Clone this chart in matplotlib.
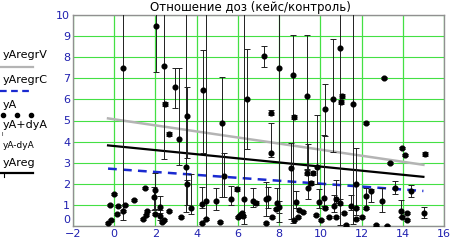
import numpy as np
import matplotlib
matplotlib.use("Agg")
import matplotlib.pyplot as plt
from matplotlib.lines import Line2D
from matplotlib.transforms import ScaledTranslation

# measured points: x, yA, lower error, upper error
xA = [0.44, 2.04, 2.43, 2.48, 2.96, 3.15, 3.54, 2.67, 4.3, 5.25, 6.46, 7.28, 7.6, 7.62,
      8.0, 8.66, 8.74, 9.37, 10.24, 10.6, 10.97, 11.07, 11.0, 11.6, 13.1, 12.23, 13.98,
      14.13, 15.1, 13.4, 8.6, 9.85,
      -0.3, -0.15, 0.15, 0.44, -0.2, 0.2, 0.5, 0.0, 0.97, 1.5, 1.94, 2.0, 1.6, 1.55, 1.4,
      2.0, 2.2, 2.33, 2.2, 2.67, 2.4, 3.5, 3.54, 3.74, 3.25, 4.27, 4.47, 4.47, 4.27, 4.95,
      5.15, 5.34, 5.68, 5.97, 6.3, 6.1, 6.2, 6.0, 6.26, 6.75, 6.9, 7.38, 7.38, 7.48, 7.9,
      8.0, 7.67, 7.86, 8.8, 8.98, 8.9, 8.74, 9.17, 9.42, 9.56, 9.37, 9.66, 9.95, 9.8, 10.05,
      10.2, 10.24, 10.44, 10.68, 10.78, 10.78, 10.97, 11.17, 11.5, 11.75, 11.26, 11.75,
      12.23, 12.48, 13.0, 13.6, 14.4, 12.23, 13.93, 14.2, 13.98, 14.2, 15.05, 13.25, 12.04,
      11.75, 12.7]
yA = [7.49, 9.48, 7.58, 5.78, 6.59, 4.1, 5.21, 4.36, 6.44, 4.88, 6.0, 8.05, 5.36, 3.46,
      7.5, 7.15, 5.17, 6.16, 5.55, 6.0, 8.43, 6.16, 5.87, 5.78, 7.0, 4.88, 3.7,
      3.36, 3.41, 2.99, 2.75, 2.8,
      0.14, 0.28, 0.57, 0.71, 1.0, 0.95, 1.0, 1.52, 1.23, 1.8, 1.37, 1.7, 0.71, 0.52, 0.33,
      0.57, 0.47, 0.19, 0.9, 0.71, 0.28, 2.8, 2.0, 0.85, 0.43, 1.04, 1.18, 0.33, 0.14, 1.18,
      0.19, 2.37, 1.28, 1.75, 1.28, 0.52, 0.62, 0.43, 0.47, 1.18, 1.09, 1.28, 0.14, 1.33, 1.09,
      0.9, 0.43, 0.81, 1.14, 0.76, 0.43, 0.28, 0.66, 1.8, 2.04, 2.51, 2.51, 1.14, 0.52, 0.28,
      1.33, 0.85, 0.43, 0.95, 1.28, 0.43, 1.09, 0.62, 0.95, 0.33, 0.05, 2.0,
      1.42, 1.66, 1.18, 1.8, 1.66, 0.85, 0.71, 0.62, 0.43, 0.28, 0.62, 0.0, 0.43,
      0.85, 0.05]
dyA_lo = [7.2, 2.2, 4.4, 0.08, 1.0, 1.2, 2.0, 0.08, 3.0, 3.5, 2.35, 0.5, 0.1, 0.2,
          7.3, 7.0, 0.1, 3.5, 1.3, 2.5, 8.4, 0.1, 0.1, 5.7, 0.05, 0.05, 0.05,
          0.05, 0.08, 0.05, 2.4, 0.8,
          .05, .05, .05, .05, .05, .05, .05, .05, .05, .05, 0.6, 0.9, .05, .05, .05,
          .05, 0.2, .05, 0.3, .05, .05, 2.14, 1.0, 0.3, .05, 0.2, 0.9, .05, .05, 0.4,
          .05, 1.0, 0.3, 0.1, 1.2, .05, .05, .05, .05, 0.3, 0.1, 0.8, .05, 0.5, 0.3,
          0.3, .05, .05, 0.3, .05, .05, .05, .05, 0.5, 0.1, 0.1, 0.1, 0.3, .05, .05,
          0.4, .05, .05, 0.3, 0.2, .05, 0.1, .05, 0.2, .05, .05, 1.5,
          0.6, 0.5, 0.5, 0.3, 0.3, .05, 0.3, .05, .05, .05, 0.25, .05, .05,
          .05, .05]
dyA_hi = [4.0, 0.6, 3.0, 0.08, 0.9, 3.4, 1.4, 0.08, 1.9, 2.2, 2.4, 0.5, 0.15, 1.4,
          4.0, 1.9, 0.1, 2.9, 1.2, 2.85, 3.0, 0.1, 0.1, 5.0, 0.05, 0.05, 0.05,
          0.05, 0.08, 0.05, 1.2, 2.46,
          .05, .05, .05, .05, .05, .05, .05, .05, .05, .05, 0.5, 0.8, .05, .05, .05,
          .05, 0.3, .05, 0.5, .05, .05, 8.0, 0.2, 1.6, .05, 0.8, 9.0, .05, .05, 0.6,
          .05, 1.1, 0.6, 0.1, 9.0, .05, .05, .05, .05, 0.6, 0.1, 0.8, .05, 0.5, 0.7,
          0.3, .05, .05, 0.5, .05, .05, .05, .05, 2.1, 0.1, 0.2, 0.1, 0.6, .05, .05,
          3.0, .05, .05, 0.5, 0.9, .05, 0.2, .05, 0.5, .05, .05, 1.7,
          0.4, 0.1, 0.6, 0.35, 0.3, .05, 0.5, .05, .05, .05, 0.3, .05, .05,
          .05, .05]

# regression lines (end points)
x_reg = [-0.3, 15.0]
yAregrV = [5.1, 2.9]
yAreg = [3.82, 2.33]
yAregrC = [2.72, 1.66]

x_ticks = [-2, 0, 2, 4, 6, 8, 10, 12, 14, 16]
y_ticks = list(range(0, 11))

fig = plt.figure(figsize=(4.54, 2.40), dpi=100)
ax = fig.add_axes([73 / 454, 14 / 240, 371 / 454, 211 / 240])

grid_green = "#44e044"
for yv in y_ticks:
    ax.axhline(yv, color=grid_green, lw=0.8, zorder=0)
for xv in x_ticks:
    ax.axvline(xv, color=grid_green, lw=0.9, zorder=0)

ax.errorbar(xA, yA, yerr=[dyA_lo, dyA_hi], fmt="o", color="black", ms=3.4,
            ecolor="#202020", elinewidth=0.7, capsize=2.5, capthick=0.7, zorder=3)

ax.plot(x_reg, yAregrV, color="#b4b4b4", lw=1.8, zorder=2)
ax.plot(x_reg, yAreg, color="black", lw=1.6, zorder=2)
ax.plot(x_reg, yAregrC, color="#1a2ad0", lw=1.8, ls=(0, (3.5, 2.5)), zorder=2)

ax.set_xlim(-2, 16)
ax.set_ylim(0, 10)
ax.set_xticks(x_ticks)
ax.set_yticks(y_ticks)
ax.tick_params(length=0, labelsize=8, labelcolor="#2020b0", pad=2)
for s in ax.spines.values():
    s.set_color("#909090")
    s.set_linewidth(1.0)

# the "0" label sits a little above the axis, as in the original
lab0 = ax.get_yticklabels()[0]
lab0.set_transform(lab0.get_transform() + ScaledTranslation(0, 7 / 100, fig.dpi_scale_trans))

fig.text(250 / 454, 1 - 7 / 240, "Отношение доз (кейс/контроль)", ha="center",
         va="center", fontsize=8.5)

# Mathcad-style legend on the left
def fy(py):
    return 1 - py / 240

def fx(px):
    return px / 454

fig.text(fx(3), fy(55), "yAregrV", fontsize=8, va="center")
fig.add_artist(Line2D([fx(0), fx(33)], [fy(67), fy(67)], color="#b4b4b4", lw=1.6))
fig.text(fx(3), fy(80), "yAregrC", fontsize=8, va="center")
fig.add_artist(Line2D([fx(0), fx(33)], [fy(91), fy(91)], color="#1a2ad0", lw=1.6,
                      ls=(0, (3, 2))))
fig.text(fx(3), fy(105), "yA", fontsize=8, va="center")
fig.add_artist(Line2D([fx(3), fx(17), fx(31)], [fy(115)] * 3, color="black", lw=0,
                      marker="o", ms=3))
fig.text(fx(3), fy(125), "yA+dyA", fontsize=8, va="center")
fig.text(fx(1), fy(135), "I", fontsize=4, va="center")
fig.text(fx(3), fy(145), "yA-dyA", fontsize=6.5, va="center")
fig.text(fx(3), fy(163), "yAreg", fontsize=8, va="center")
fig.add_artist(Line2D([fx(0), fx(33)], [fy(173), fy(173)], color="black", lw=1.6))
fig.add_artist(Line2D([fx(4), fx(4)], [fy(173), fy(177)], color="black", lw=0.8))

fig.savefig("out.png", dpi=100)
